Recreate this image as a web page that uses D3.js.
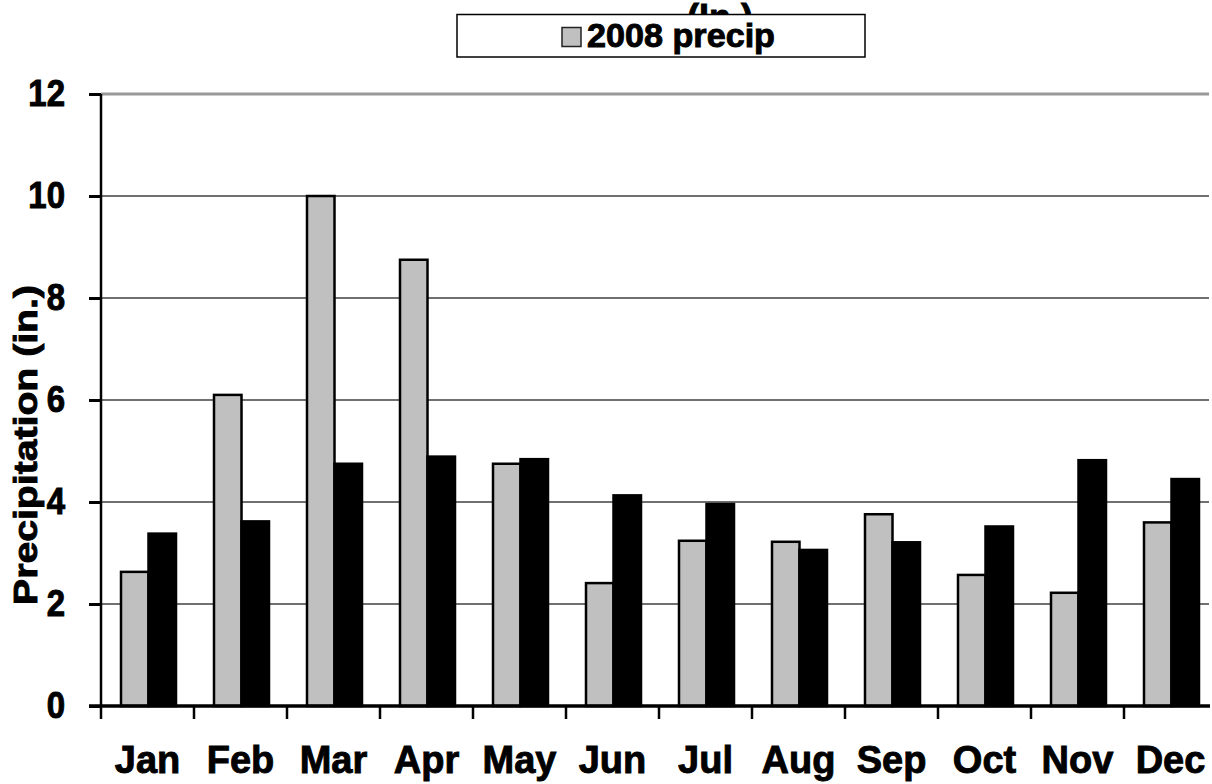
<!DOCTYPE html>
<html>
<head>
<meta charset="utf-8">
<script src="https://cdn.jsdelivr.net/npm/d3@7/dist/d3.min.js"></script>
<style>
  html, body { margin: 0; padding: 0; background: #fff; }
  svg { display: block; font-family: "Liberation Sans", Arial, sans-serif; font-weight: bold; }
  .heavy { stroke: #000; stroke-width: 0.9px; paint-order: stroke; }
</style>
</head>
<body>
<svg id="chart" width="1212" height="784"></svg>
<script>
// Monthly precipitation (inches)
const months = ["Jan", "Feb", "Mar", "Apr", "May", "Jun", "Jul", "Aug", "Sep", "Oct", "Nov", "Dec"];
const precip2008 = [2.63, 6.10, 10.0, 8.75, 4.75, 2.41, 3.24, 3.22, 3.76, 2.57, 2.22, 3.60];
const avgPrecip = [3.38, 3.62, 4.75, 4.89, 4.84, 4.13, 3.96, 3.06, 3.21, 3.52, 4.82, 4.45];
const seriesKeys = ["2008", "avg"];
const seriesFill = ["#c0c0c0", "#000000"];
const yTicks = [0, 2, 4, 6, 8, 10, 12];
const legendLabel = "2008 precip";
const titleTail = "(In.)";
const yTitle = "Precipitation (in.)";

const svg = d3.select("#chart");
const plotLeft = 101, plotRight = 1217, plotTop = 94, plotBottom = 706;

const x = d3.scaleBand().domain(months).range([plotLeft, plotRight]).paddingInner(0).paddingOuter(0);
const xs = d3.scaleBand().domain(seriesKeys).range([20, 75]);
const y = d3.scaleLinear().domain([0, 12]).range([plotBottom, plotTop]);

// Title line partly hidden behind the legend
svg.append("text")
  .attr("class", "heavy")
  .attr("x", 720).attr("y", 30)
  .attr("text-anchor", "middle")
  .attr("font-size", 36)
  .text(titleTail);

// Horizontal gridlines
svg.append("g").selectAll("line")
  .data(yTicks.filter(d => d > 0))
  .join("line")
  .attr("x1", plotLeft).attr("x2", 1209)
  .attr("y1", d => y(d)).attr("y2", d => y(d))
  .attr("stroke", d => d === 12 ? "#999" : "#707070")
  .attr("stroke-width", d => d === 12 ? 3 : 1.8);

// Bars
const rows = months.map((m, i) => ({ m, vals: [precip2008[i], avgPrecip[i]] }));
const groups = svg.append("g").selectAll("g")
  .data(rows)
  .join("g")
  .attr("transform", d => `translate(${x(d.m)},0)`);
groups.selectAll("rect")
  .data(d => d.vals.map((v, k) => ({ k: seriesKeys[k], v, c: seriesFill[k] })))
  .join("rect")
  .attr("x", d => xs(d.k))
  .attr("width", xs.bandwidth())
  .attr("y", d => y(d.v))
  .attr("height", d => y(0) - y(d.v))
  .attr("fill", d => d.c)
  .attr("stroke", "#000")
  .attr("stroke-width", 2.5);

// Y axis
const yAxis = d3.axisLeft(y).tickValues(yTicks).tickSize(12).tickPadding(24).tickFormat(d3.format("d"));
const gy = svg.append("g").attr("transform", `translate(${plotLeft},0)`).call(yAxis);
gy.select(".domain").attr("stroke", "#000").attr("stroke-width", 2.5).attr("d", `M0,${plotTop}V${plotBottom}`);
gy.selectAll(".tick line").attr("stroke", "#000").attr("stroke-width", 3);
gy.selectAll(".tick text")
  .attr("class", "heavy")
  .attr("font-size", 33).attr("font-weight", "bold").attr("fill", "#000")
  .attr("font-family", "'Liberation Sans', Arial, sans-serif")
  .attr("dy", "0.30em")
  .attr("transform", "scale(1,1.12)");

// X axis baseline and boundary ticks
svg.append("line")
  .attr("x1", plotLeft - 12).attr("x2", 1210)
  .attr("y1", y(0)).attr("y2", y(0))
  .attr("stroke", "#000").attr("stroke-width", 3.5);
svg.append("g").selectAll("line")
  .data(months)
  .join("line")
  .attr("x1", d => x(d)).attr("x2", d => x(d))
  .attr("y1", y(0)).attr("y2", y(0) + 13)
  .attr("stroke", "#000").attr("stroke-width", 2.5);

const xAxis = d3.axisBottom(x).tickSize(0).tickPadding(0);
const gx = svg.append("g").attr("transform", `translate(0,${y(0)})`).call(xAxis);
gx.select(".domain").remove();
gx.selectAll(".tick text")
  .attr("class", "heavy")
  .attr("dy", 0).attr("y", 67)
  .attr("font-size", 38).attr("font-weight", "bold").attr("fill", "#000")
  .attr("font-family", "'Liberation Sans', Arial, sans-serif");

// Y axis title
svg.append("text")
  .attr("class", "heavy")
  .attr("transform", "translate(37,445) rotate(-90)")
  .attr("text-anchor", "middle")
  .attr("font-size", 34)
  .attr("textLength", 320)
  .attr("lengthAdjust", "spacingAndGlyphs")
  .text(yTitle);

// Legend
const lg = svg.append("g");
lg.append("rect")
  .attr("x", 457).attr("y", 14.5).attr("width", 408).attr("height", 42.5)
  .attr("fill", "#fff").attr("stroke", "#000").attr("stroke-width", 1.5);
lg.append("rect")
  .attr("x", 562).attr("y", 27.5).attr("width", 19).attr("height", 19)
  .attr("fill", seriesFill[0]).attr("stroke", "#222").attr("stroke-width", 1.5);
lg.append("text")
  .attr("class", "heavy")
  .attr("x", 587).attr("y", 47)
  .attr("font-size", 33)
  .attr("textLength", 188)
  .attr("lengthAdjust", "spacingAndGlyphs")
  .text(legendLabel);
</script>
</body>
</html>
